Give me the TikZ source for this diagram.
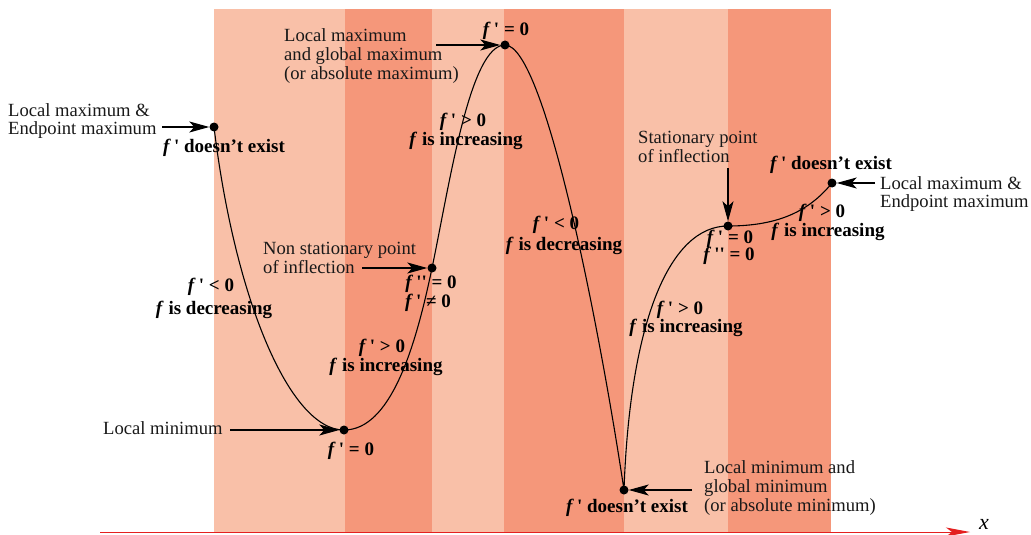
\documentclass[tikz,border=0pt]{standalone}
\usepackage{fontspec}
\setmainfont{Liberation Serif}
\usetikzlibrary{arrows.meta}
\definecolor{bandlight}{RGB}{249,192,168}
\definecolor{banddark}{RGB}{245,151,122}
\definecolor{axisred}{RGB}{228,32,32}
\newcommand\myfp{\textit{f}\,\textquotesingle}
\newcommand\myfpp{\textit{f}\,\textquotesingle\textquotesingle}
\tikzset{
  txt/.style={font=\fontsize{18.6}{18.6}\selectfont, inner sep=0pt, align=left, anchor=west, text=black!90},
  btxt/.style={font=\fontsize{19}{19}\selectfont\bfseries, inner sep=0pt, align=center},
  dot/.style={circle, fill=black, inner sep=0pt, minimum size=9pt},
  arr/.style={-{Stealth[length=20pt,width=11pt,inset=5pt]}, line width=1.1pt},
  curve/.style={line width=1.1pt},
}
\begin{document}
\begin{tikzpicture}[x=1pt,y=-1pt]
\useasboundingbox (0,0) rectangle (1031,535);
% bands
\fill[bandlight] (214,9) rectangle (345,533);
\fill[banddark] (345,9) rectangle (432,533);
\fill[bandlight] (432,9) rectangle (504,533);
\fill[banddark] (504,9) rectangle (624,533);
\fill[bandlight] (624,9) rectangle (728,533);
\fill[banddark] (728,9) rectangle (831,533);
% axis
\coordinate (ax0) at (100,532);
\coordinate (ax1) at (970,532);
\draw[axisred, line width=1pt, -{Stealth[length=24pt,width=9pt,inset=6pt]}] (ax0) -- (ax1);
\node[font=\fontsize{22}{22}\selectfont\itshape, inner sep=0pt] (xl) at (984,524) {x};
% curve
\draw[curve] (214,127) .. controls (235,300) and (290,430) .. (344,430)
  .. controls (390,430) and (415,350) .. (432,268)
  .. controls (450,182) and (470,45) .. (505,45)
  .. controls (545,45) and (600,330) .. (624,490)
  .. controls (630,320) and (670,226) .. (728,226)
  .. controls (780,226) and (810,210) .. (832,183);
% dots
\node[dot] (p1) at (214,127) {};
\node[dot] (p2) at (344,430) {};
\node[dot] (p3) at (432,268) {};
\node[dot] (p4) at (505,45) {};
\node[dot] (p5) at (624,490) {};
\node[dot] (p6) at (728,226) {};
\node[dot] (p7) at (832,183) {};
% descriptive labels
\node[txt] (l1) at (8,121) {Local maximum \&\\Endpoint maximum};
\node[txt] (l2) at (284,56) {Local maximum\\and global maximum\\(or absolute maximum)};
\node[txt] (l3) at (263,258) {Non stationary point\\of inflection};
\node[txt] (l4) at (103,428) {Local minimum};
\node[txt] (l5) at (638,147) {Stationary point\\of inflection};
\node[txt] (l6) at (880,194) {Local maximum \&\\Endpoint maximum};
\node[txt] (l7) at (704,488) {Local minimum and\\global minimum\\(or absolute minimum)};
% arrows
\coordinate (a1) at (162,127);
\coordinate (a2) at (436,45);
\coordinate (a3) at (362,268);
\coordinate (a4) at (230,430);
\coordinate (a5) at (728,168);
\coordinate (a6) at (875,183);
\coordinate (a7) at (692,490);
\draw[arr] (a1) -- (p1);
\draw[arr] (a2) -- (p4);
\draw[arr] (a3) -- (p3);
\draw[arr] (a4) -- (p2);
\draw[arr] (a5) -- (p6);
\draw[arr] (a6) -- (p7);
\draw[arr] (a7) -- (p5);
% bold labels
\node[btxt] (b1) at (224,148) {\myfp\ doesn’t exist};
\node[btxt] (b2) at (211,287) {\myfp\ < 0};
\node[btxt] (b3) at (214,310) {\textit{f} is decreasing};
\node[btxt] (b4) at (382,348) {\myfp\ > 0};
\node[btxt] (b5) at (386,367) {\textit{f} is increasing};
\node[btxt] (b6) at (351,451) {\myfp\ = 0};
\node[btxt] (b7) at (431,284) {\myfpp\ = 0};
\node[btxt] (b8) at (428,303) {\myfp\ ≠ 0};
\node[btxt] (b9) at (463,122) {\myfp\ > 0};
\node[btxt] (b10) at (466,141) {\textit{f} is increasing};
\node[btxt] (b11) at (506,31) {\myfp\ = 0};
\node[btxt] (b12) at (556,225) {\myfp\ < 0};
\node[btxt] (b13) at (564,246) {\textit{f} is decreasing};
\node[btxt] (b14) at (627,508) {\myfp\ doesn’t exist};
\node[btxt] (b15) at (680,310) {\myfp\ > 0};
\node[btxt] (b16) at (686,328) {\textit{f} is increasing};
\node[btxt] (b17) at (730,239) {\myfp\ = 0};
\node[btxt] (b18) at (729,256) {\myfpp\ = 0};
\node[btxt] (b19) at (831,165) {\myfp\ doesn’t exist};
\node[btxt] (b20) at (822,213) {\myfp\ > 0};
\node[btxt] (b21) at (828,232) {\textit{f} is increasing};
\end{tikzpicture}
\end{document}
